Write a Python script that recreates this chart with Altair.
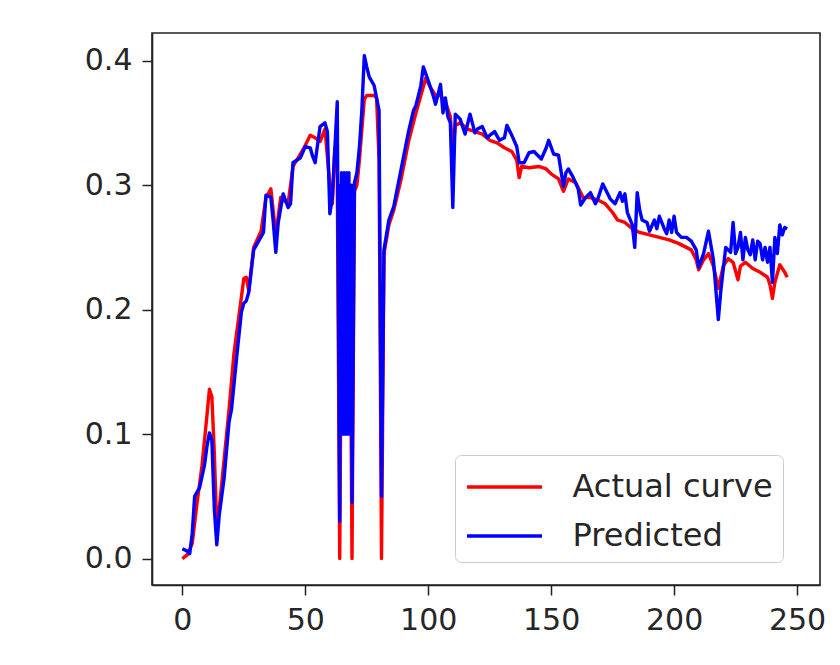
import altair as alt
import pandas as pd

series_names = ["Actual curve", "Predicted"]

actual_x = [0, 2, 4, 6, 8, 10, 11, 12, 13, 14, 15, 17, 19, 21, 23, 25, 26, 27, 29, 32, 34, 36, 38, 40,
            43, 45, 48, 50, 52, 54, 56, 58, 60, 61, 62, 63, 64, 65, 66, 67, 68, 69, 70, 71, 72, 74,
            75, 78, 79, 80, 81, 82, 84, 86, 89, 92, 95, 99, 101, 103, 105, 107, 109, 110, 111, 113,
            116, 119, 122, 125, 128, 131, 134, 136, 137, 138, 141, 145, 148, 150, 153, 155, 157, 160,
            163, 166, 169, 172, 175, 177, 180, 183, 186, 190, 194, 198, 202, 205, 207, 209, 210, 212,
            214, 216, 218, 220, 222, 224, 226, 227, 229, 232, 235, 238, 239, 240, 241, 243, 245, 246]
actual_y = [0.0, 0.003, 0.012, 0.045, 0.075, 0.115, 0.136, 0.13, 0.085, 0.025, 0.04, 0.08, 0.12,
            0.165, 0.195, 0.225, 0.226, 0.215, 0.25, 0.263, 0.29, 0.297, 0.26, 0.29, 0.285, 0.315,
            0.325, 0.332, 0.34, 0.338, 0.335, 0.345, 0.30, 0.285, 0.33, 0.31, 0.0, 0.30, 0.29, 0.30,
            0.29, 0.0, 0.295, 0.30, 0.32, 0.369, 0.372, 0.372, 0.37, 0.32, 0.0, 0.245, 0.268, 0.28,
            0.305, 0.335, 0.358, 0.386, 0.378, 0.372, 0.372, 0.367, 0.355, 0.325, 0.348, 0.35, 0.345,
            0.343, 0.341, 0.336, 0.334, 0.33, 0.327, 0.32, 0.306, 0.315, 0.314, 0.315, 0.313, 0.309,
            0.305, 0.295, 0.305, 0.302, 0.29, 0.29, 0.288, 0.285, 0.278, 0.272, 0.27, 0.265, 0.262,
            0.26, 0.258, 0.256, 0.253, 0.25, 0.248, 0.24, 0.232, 0.24, 0.245, 0.235, 0.217, 0.235,
            0.241, 0.238, 0.224, 0.235, 0.238, 0.233, 0.23, 0.226, 0.22, 0.209, 0.222, 0.236, 0.23,
            0.226]

pred_x = [0, 2, 3, 4, 5, 7, 9, 10, 11, 12, 13, 14, 15, 17, 19, 20, 22, 24, 25, 26, 27, 29, 31, 33,
          34, 36, 37, 38, 39, 41, 43, 44, 45, 48, 50, 52, 53, 54, 56, 58, 59, 60, 61, 63,
          64, 64.25, 64.5, 64.75, 65, 65.25, 65.5, 65.75, 66, 66.25, 66.5, 66.75, 67, 67.25, 67.5,
          67.75, 68, 68.25, 68.5, 68.75, 69,
          70, 71, 72, 73, 74, 75, 76, 78, 79, 80, 81,
          82, 84, 86, 89, 92, 94, 95,
          97, 98, 100, 102, 103, 105, 106, 107, 108, 109, 110, 111, 113, 115, 117, 119, 120, 122,
          124, 125, 127, 129, 131, 132, 134, 136, 137, 139, 141, 143, 146, 148, 149, 151, 153, 155,
          156, 157, 159, 161, 162, 164, 166, 168, 169, 171, 173, 174, 176, 178, 179, 180, 181, 183,
          184, 185, 186, 187, 189, 190, 192, 193, 194, 196, 197, 198, 199, 200, 201, 203, 205, 207,
          209, 210, 212, 214, 216, 218, 219, 221, 223, 224, 225, 226, 227, 228, 229, 230, 231, 232,
          233, 234, 235, 236, 237, 238, 239, 240, 241, 242, 243, 244, 245, 246]
pred_y = [0.008, 0.006, 0.004, 0.02, 0.05, 0.057, 0.075, 0.09, 0.101, 0.095, 0.04, 0.011, 0.035,
          0.065, 0.11, 0.12, 0.16, 0.198, 0.205, 0.207, 0.214, 0.248, 0.255, 0.262, 0.292, 0.29,
          0.27, 0.246, 0.27, 0.293, 0.282, 0.285, 0.318, 0.322, 0.331, 0.33, 0.323, 0.318, 0.347,
          0.35, 0.343, 0.277, 0.29, 0.367,
          0.03, 0.30, 0.10, 0.31, 0.10, 0.30, 0.10, 0.31, 0.10, 0.30, 0.10, 0.31, 0.10, 0.30, 0.11,
          0.31, 0.10, 0.30, 0.12, 0.30, 0.045,
          0.302, 0.31, 0.33, 0.36, 0.404, 0.395, 0.387, 0.38, 0.37, 0.36, 0.05,
          0.248, 0.272, 0.283, 0.313, 0.343, 0.36, 0.364,
          0.38, 0.395, 0.384, 0.372, 0.365, 0.381, 0.358, 0.37, 0.355, 0.35, 0.282,
          0.357, 0.353, 0.341, 0.357, 0.342, 0.345, 0.347, 0.338, 0.34, 0.343, 0.336, 0.338, 0.348,
          0.34, 0.331, 0.318, 0.318, 0.326, 0.327, 0.321, 0.33, 0.336, 0.325, 0.324, 0.299, 0.31,
          0.313, 0.306, 0.297, 0.284, 0.29, 0.294, 0.285, 0.289, 0.301, 0.293, 0.289, 0.285, 0.294,
          0.287, 0.293, 0.278, 0.268, 0.25, 0.294, 0.28, 0.272, 0.27, 0.263, 0.272, 0.265, 0.275,
          0.265, 0.261, 0.272, 0.262, 0.275, 0.262, 0.258, 0.258, 0.255, 0.248, 0.234, 0.245, 0.263,
          0.24, 0.192, 0.215, 0.25, 0.246, 0.27, 0.245, 0.25, 0.262, 0.24, 0.258, 0.248, 0.244,
          0.256, 0.24, 0.255, 0.253, 0.24, 0.25, 0.238, 0.25, 0.222, 0.258, 0.245, 0.268, 0.26,
          0.266, 0.265]

x_ticks = [0, 50, 100, 150, 200, 250]
y_ticks = [0.0, 0.1, 0.2, 0.3, 0.4]

rows = []
for i, (xv, yv) in enumerate(zip(actual_x, actual_y)):
    rows.append({"series": series_names[0], "x": xv, "y": yv, "order": i})
for i, (xv, yv) in enumerate(zip(pred_x, pred_y)):
    rows.append({"series": series_names[1], "x": xv, "y": yv, "order": i})
df = pd.DataFrame(rows)

FONT = "DejaVu Sans"
FS = 30

chart = alt.Chart(df).mark_line(strokeWidth=3.4, strokeJoin="round").encode(
    x=alt.X("x:Q", scale=alt.Scale(domain=[-12.35, 259.35], nice=False, zero=False),
            axis=alt.Axis(values=x_ticks, format="d", title=None, grid=False)),
    y=alt.Y("y:Q", scale=alt.Scale(domain=[-0.0212, 0.4222], nice=False, zero=False),
            axis=alt.Axis(values=y_ticks, format=".1f", title=None, grid=False)),
    color=alt.Color("series:N",
                    scale=alt.Scale(domain=series_names, range=["#ff0000", "#0000ff"]),
                    legend=alt.Legend(title=None, orient="none", legendX=303, legendY=422,
                                      symbolType="M-1.875,0H1.875", symbolSize=1600,
                                      symbolOffset=17.5,
                                      symbolStrokeWidth=3.4, labelFontSize=32,
                                      labelFont=FONT, labelColor="#262626", labelLimit=400,
                                      labelOffset=46, padding=10, rowPadding=11,
                                      strokeColor="#cccccc", fillColor="white",
                                      cornerRadius=6)),
    detail="series:N",
    order="order:Q",
).properties(
    width=668, height=552,
    autosize=alt.AutoSizeParams(type="none"),
    padding={"left": 144, "top": 25, "right": 12, "bottom": 72},
).configure_view(
    stroke="#222222", strokeWidth=1.6
).configure_axis(
    labelFont=FONT, labelFontSize=FS, labelColor="#262626",
    tickColor="#222222", tickSize=10, tickWidth=1.5,
    domainColor="#222222", domainWidth=1.6, labelPadding=10,
)

chart.save("out.html", embed_options={"renderer": "svg", "actions": False})
